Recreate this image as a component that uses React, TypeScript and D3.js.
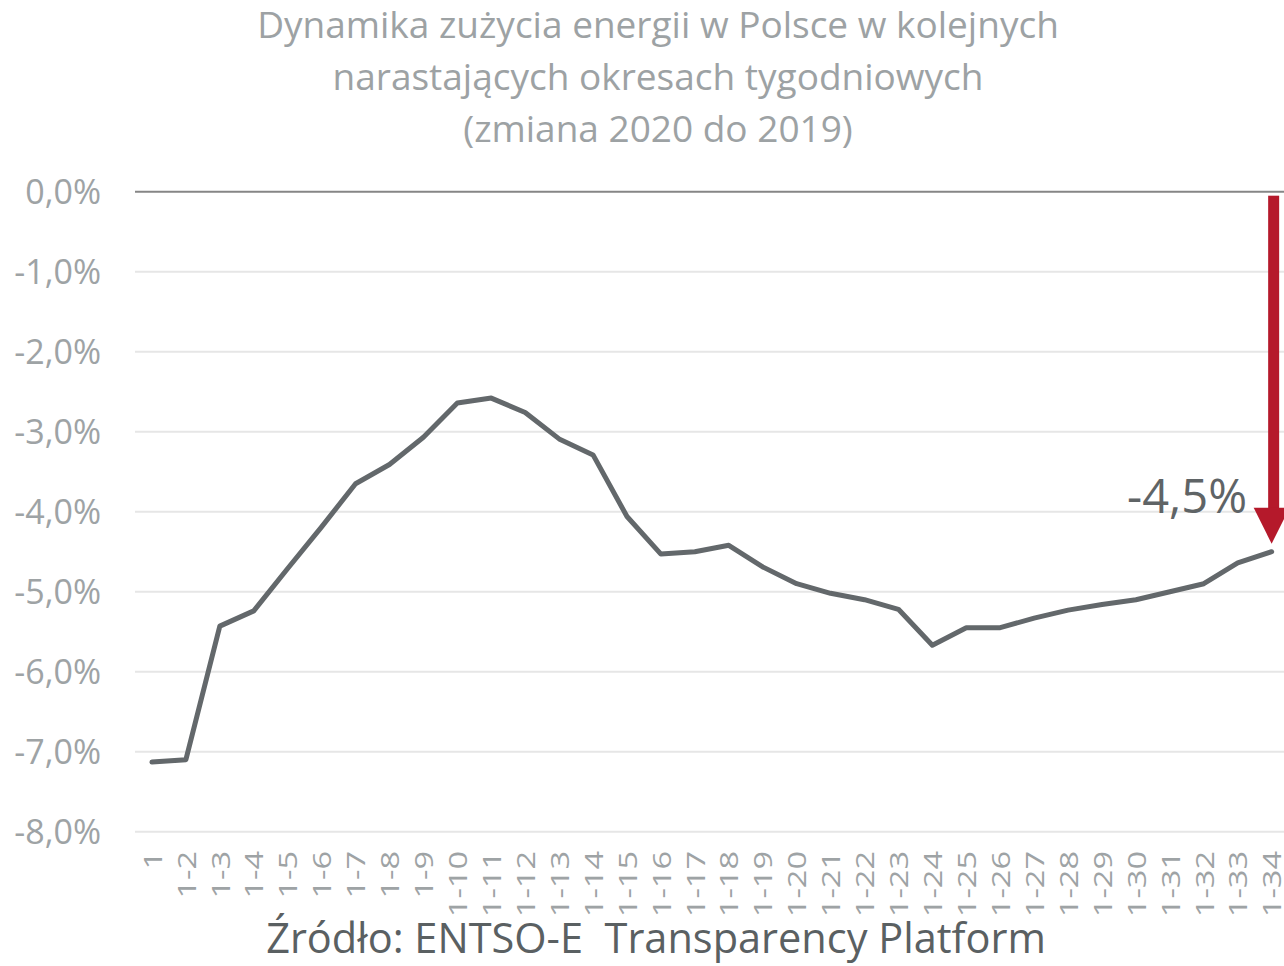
import React from 'react'
import * as d3 from 'd3'

// tygodnie narastająco
const weeks = [
  '1', '1-2', '1-3', '1-4', '1-5', '1-6', '1-7', '1-8', '1-9', '1-10',
  '1-11', '1-12', '1-13', '1-14', '1-15', '1-16', '1-17', '1-18', '1-19', '1-20',
  '1-21', '1-22', '1-23', '1-24', '1-25', '1-26', '1-27', '1-28', '1-29', '1-30',
  '1-31', '1-32', '1-33', '1-34',
]

// zmiana 2020 do 2019, w %
const change = [
  -7.13, -7.10, -5.43, -5.24, -4.71, -4.19, -3.65, -3.41, -3.07, -2.64,
  -2.58, -2.76, -3.09, -3.29, -4.06, -4.53, -4.50, -4.42, -4.69, -4.90,
  -5.02, -5.10, -5.22, -5.67, -5.45, -5.45, -5.33, -5.23, -5.16, -5.10,
  -5.00, -4.90, -4.64, -4.50,
]

const yTicks = [0, -1, -2, -3, -4, -5, -6, -7, -8]

const titleLines = [
  'Dynamika zużycia energii w Polsce w kolejnych',
  'narastających okresach tygodniowych',
  '(zmiana 2020 do 2019)',
]
const source = 'Źródło: ENTSO-E  Transparency Platform'
const lastLabel = '-4,5%'

const W = 1284
const H = 966
const font = '"Open Sans", sans-serif'

function App() {
  const x = d3.scalePoint<string>().domain(weeks).range([135, 135 + 34 * 33.93]).padding(0.5)
  const y = d3.scaleLinear().domain([-8, 0]).range([831.7, 191.7])

  const line = d3.line<number>()
    .x((d, i) => x(weeks[i]) as number)
    .y(d => y(d))

  const fmt = (v: number) => v.toFixed(1).replace('.', ',') + '%'

  const lastX = x(weeks[weeks.length - 1]) as number
  const lastY = y(change[change.length - 1])
  const arrowTop = y(0) + 4
  const tipY = lastY - 8
  const headH = 36
  const headW = 18

  return (
    <svg width={W} height={H} style={{ position: 'absolute', left: 0, top: 0, background: '#fff' }}>
      <g className='title' fill='#9da2a4' fontFamily={font} fontSize={37} textAnchor='middle'>
        {titleLines.map((t, i) => (
          <text key={i} x={658} y={38 + i * 52}>{t}</text>
        ))}
      </g>

      <g className='grid'>
        {yTicks.filter(t => t !== 0).map(t => (
          <line key={t} x1={135} x2={W} y1={y(t)} y2={y(t)} stroke='#e6e6e6' strokeWidth={2} />
        ))}
        <line x1={135} x2={W} y1={y(0)} y2={y(0)} stroke='#868686' strokeWidth={2} />
      </g>

      <g className='yAxis' fill='#9ea3a5' fontFamily={font} fontSize={34} textAnchor='end'>
        {yTicks.map(t => (
          <text key={t} x={101} y={y(t) + 12.1}>{fmt(t)}</text>
        ))}
      </g>

      {/* etykiety osi X - obrocone i rozciagniete jak w oryginale */}
      <g className='xAxis' fill='#9ea3a5' fontFamily={font} fontSize={26}>
        {weeks.map(w => (
          <text key={w} textAnchor='end' dominantBaseline='central'
            transform={`translate(${x(w)},851) rotate(-90) scale(1.25,1)`}>{w}</text>
        ))}
      </g>

      <path d={line(change) || ''} fill='none' stroke='#63686b' strokeWidth={5}
        strokeLinejoin='round' strokeLinecap='round' />

      <g className='arrow' fill='#b5192b'>
        <rect x={lastX - 5.5 + 2} y={arrowTop} width={11} height={tipY - headH - arrowTop + 1} />
        <path d={`M${lastX - headW},${tipY - headH} L${lastX + headW},${tipY - headH} L${lastX},${tipY} Z`} />
      </g>
      <text x={1247} y={513} textAnchor='end' fill='#5f6466' fontFamily={font} fontSize={47}>{lastLabel}</text>

      <text x={656} y={953} textAnchor='middle' fill='#5a6062' fontFamily={font} fontSize={41.5}
        style={{ whiteSpace: 'pre' }}>{source}</text>
    </svg>
  )
}

export default App
